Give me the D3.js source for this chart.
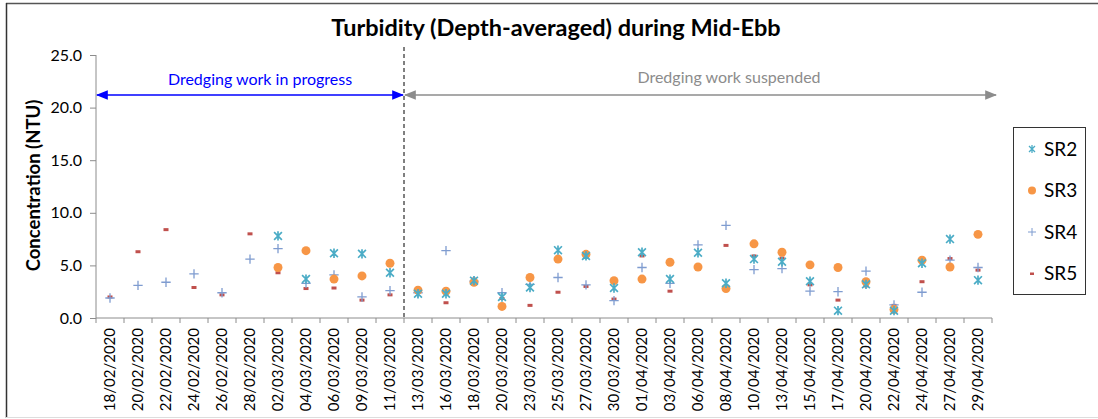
<!DOCTYPE html>
<html>
<head>
<meta charset="utf-8">
<script src="https://cdn.jsdelivr.net/npm/d3@7"></script>
<style>
  body { margin: 0; background: #fff; }
  svg { display: block; }
  svg text { font-family: Lato, "Open Sans", sans-serif; }
  .title { font-size: 23.5px; font-weight: bold; fill: #000; }
  .axis-label { font-size: 18.5px; font-weight: bold; fill: #000; }
  .y-axis text { font-size: 16px; fill: #000; }
  .x-axis text { font-size: 15px; fill: #000; }
  .legend text { font-size: 19px; fill: #000; }
  .note { font-size: 16px; }
</style>
</head>
<body>
<svg width="1098" height="419"></svg>
<script>
// categories on the x axis
const dates = ['18/02/2020','20/02/2020','22/02/2020','24/02/2020','26/02/2020','28/02/2020',
  '02/03/2020','04/03/2020','06/03/2020','09/03/2020','11/03/2020','13/03/2020','16/03/2020',
  '18/03/2020','20/03/2020','23/03/2020','25/03/2020','27/03/2020','30/03/2020','01/04/2020',
  '03/04/2020','06/04/2020','08/04/2020','10/04/2020','13/04/2020','15/04/2020','17/04/2020',
  '20/04/2020','22/04/2020','24/04/2020','27/04/2020','29/04/2020']

// null = no reading that day
const sr2 = [null,null,null,null,null,null,7.8,3.7,6.15,6.1,4.3,2.3,2.3,3.55,2.0,2.9,6.45,5.9,2.85,6.25,
  3.7,6.2,3.3,5.6,5.35,3.5,0.7,3.2,0.7,5.2,7.5,3.6]
const sr3 = [null,null,null,null,null,null,4.8,6.4,3.7,4.0,5.2,2.65,2.55,3.4,1.1,3.85,5.6,6.05,3.55,3.7,
  5.3,4.85,2.8,7.05,6.25,5.05,4.8,3.45,0.8,5.5,4.85,7.95]
const sr4 = [1.9,3.1,3.4,4.2,2.4,5.6,6.6,3.3,4.1,2.0,2.6,2.4,6.4,3.5,2.4,3.2,3.85,3.15,1.65,4.8,
  3.3,6.95,8.8,4.6,4.7,2.55,2.5,4.45,1.25,2.45,5.5,4.8]
const sr5 = [2.0,6.3,8.4,2.9,2.2,8.0,4.3,2.8,2.85,1.7,2.2,2.5,1.45,3.7,1.85,1.2,2.45,3.0,1.8,5.9,
  2.55,4.85,6.9,5.9,5.7,3.15,1.7,3.05,1.2,3.45,5.65,4.55]

const yTicks = [0, 5, 10, 15, 20, 25]
const seriesNames = ['SR2', 'SR3', 'SR4', 'SR5']
const seriesColors = ['#4BACC6', '#F79646', '#7F9CD0', '#C0504D']

const svg = d3.select('svg')
const width = +svg.attr('width')
const height = +svg.attr('height')

// chart frame (only top, left and bottom edges show)
svg.append('line').attr('x1', 6).attr('x2', width).attr('y1', 3.5).attr('y2', 3.5)
  .attr('stroke', '#555').attr('stroke-width', 1.5)
svg.append('line').attr('x1', 6.5).attr('x2', 6.5).attr('y1', 3).attr('y2', 418)
  .attr('stroke', '#333').attr('stroke-width', 1.5)
svg.append('line').attr('x1', 6).attr('x2', width).attr('y1', 417.5).attr('y2', 417.5)
  .attr('stroke', '#ddd')

const margin = {top: 55, right: 106, bottom: 101, left: 96}
const innerWidth = width - margin.left - margin.right
const innerHeight = height - margin.top - margin.bottom

const xScale = d3.scaleBand()
  .domain(dates)
  .range([0, innerWidth])

const yScale = d3.scaleLinear()
  .domain([0, 25])
  .range([innerHeight, 0])

const g = svg.append('g')
  .attr('transform', `translate(${margin.left},${margin.top})`)

// y axis
const yAxisG = g.append('g').attr('class', 'y-axis')
  .call(d3.axisLeft(yScale).tickValues(yTicks).tickFormat(d3.format('.1f')).tickSize(6).tickPadding(8))
yAxisG.attr('font-family', null).attr('font-size', null)
yAxisG.selectAll('.domain, .tick line').attr('stroke', '#8c8c8c')
yAxisG.select('.domain').attr('d', `M0,${innerHeight}V0`)

// x axis, ticks sit between categories
const xAxisG = g.append('g').attr('class', 'x-axis')
  .attr('transform', `translate(0,${innerHeight})`)
  .call(d3.axisBottom(xScale).tickSize(0).tickPadding(0))
xAxisG.attr('font-family', null).attr('font-size', null)
xAxisG.select('.domain').attr('d', `M0,0H${innerWidth}`).attr('stroke', '#8c8c8c')
xAxisG.selectAll('.tick text')
  .attr('transform', 'rotate(-90)')
  .attr('text-anchor', 'end')
  .attr('x', -10)
  .attr('y', 0)
  .attr('dy', '0.35em')
xAxisG.selectAll('.sep').data(d3.range(dates.length + 1))
  .enter().append('line')
    .attr('x1', i => i * xScale.step()).attr('x2', i => i * xScale.step())
    .attr('y1', 0).attr('y2', 5)
    .attr('stroke', '#8c8c8c')

// y axis title
g.append('text')
  .attr('class', 'axis-label')
  .attr('transform', `translate(${-56},${innerHeight / 2 - 1}) rotate(-90)`)
  .attr('text-anchor', 'middle')
  .text('Concentration (NTU)')

// title
svg.append('text')
  .attr('class', 'title')
  .attr('x', 556)
  .attr('y', 36)
  .attr('text-anchor', 'middle')
  .text('Turbidity (Depth-averaged) during Mid-Ebb')

// dredging annotations
const splitX = xScale('13/03/2020')
const arrowY = 40
const defs = svg.append('defs')
const marker = (id, color) => defs.append('marker')
  .attr('id', id).attr('viewBox', '0 0 10 10').attr('refX', 9).attr('refY', 5)
  .attr('markerWidth', 8).attr('markerHeight', 8).attr('orient', 'auto-start-reverse')
  .append('path').attr('d', 'M0,1L10,5L0,9Z').attr('fill', color)
marker('blueArrow', '#0000ff')
marker('greyArrow', '#8c8c8c')

g.append('line')
  .attr('x1', 1).attr('x2', splitX - 1)
  .attr('y1', arrowY).attr('y2', arrowY)
  .attr('stroke', '#0000ff').attr('stroke-width', 1.5)
  .attr('marker-start', 'url(#blueArrow)').attr('marker-end', 'url(#blueArrow)')
g.append('line')
  .attr('x1', splitX + 1).attr('x2', innerWidth + 4)
  .attr('y1', arrowY).attr('y2', arrowY)
  .attr('stroke', '#8c8c8c').attr('stroke-width', 1.5)
  .attr('marker-start', 'url(#greyArrow)').attr('marker-end', 'url(#greyArrow)')
g.append('line')
  .attr('x1', splitX).attr('x2', splitX)
  .attr('y1', -8).attr('y2', innerHeight + 2)
  .attr('stroke', '#000').attr('stroke-dasharray', '4,3')
g.append('text')
  .attr('class', 'note')
  .attr('x', splitX / 2 + 10).attr('y', arrowY - 10)
  .attr('text-anchor', 'middle')
  .attr('fill', '#0000ff')
  .text('Dredging work in progress')
g.append('text')
  .attr('class', 'note')
  .attr('x', (splitX + innerWidth) / 2 + 31).attr('y', arrowY - 12)
  .attr('text-anchor', 'middle')
  .attr('fill', '#8c8c8c')
  .text('Dredging work suspended')

// marker shapes
const drawMarker = (sel, idx, s) => {
  const c = seriesColors[idx]
  if (idx === 0) {
    sel.append('path')
      .attr('d', `M${-s},${-s}L${s},${s}M${-s},${s}L${s},${-s}M0,${-s * 1.2}V${s * 1.2}`)
      .attr('stroke', c).attr('stroke-width', 1.7).attr('fill', 'none')
  } else if (idx === 1) {
    sel.append('circle').attr('r', s * 1.15).attr('fill', c)
  } else if (idx === 2) {
    sel.append('path')
      .attr('d', `M${-s * 1.2},0H${s * 1.2}M0,${-s * 1.2}V${s * 1.2}`)
      .attr('stroke', c).attr('stroke-width', 1.3).attr('fill', 'none')
  } else {
    sel.append('rect').attr('x', -2.5).attr('y', -1.5).attr('width', 5).attr('height', 3).attr('fill', c)
  }
}

const series = [sr2, sr3, sr4, sr5]
// draw in reverse so SR2 ends on top
;[3, 2, 1, 0].forEach(idx => {
  const pts = dates.map((d, i) => ({date: d, value: series[idx][i]})).filter(p => p.value !== null)
  g.selectAll(`.pt${idx}`).data(pts)
    .enter().append('g')
      .attr('class', `pt${idx}`)
      .attr('transform', p => `translate(${xScale(p.date) + xScale.bandwidth() / 2},${yScale(p.value)})`)
      .each(function () { drawMarker(d3.select(this), idx, 3.9) })
})

// legend
const legend = svg.append('g').attr('class', 'legend')
legend.append('rect')
  .attr('x', 1013.5).attr('y', 127.5).attr('width', 72).attr('height', 167)
  .attr('fill', '#fff').attr('stroke', '#333')
seriesNames.forEach((name, idx) => {
  const row = legend.append('g').attr('transform', `translate(1032,${149 + idx * 41.5})`)
  if (idx === 0) {
    row.append('path').attr('d', 'M-3,-3L3,3M-3,3L3,-3M0,-4V4')
      .attr('stroke', seriesColors[0]).attr('stroke-width', 1.3).attr('fill', 'none')
  } else if (idx === 1) {
    row.append('circle').attr('r', 4).attr('fill', seriesColors[1])
  } else if (idx === 2) {
    row.append('path').attr('d', 'M-4,0H4M0,-4V4')
      .attr('stroke', seriesColors[2]).attr('stroke-width', 1).attr('fill', 'none')
  } else {
    row.append('rect').attr('x', -2).attr('y', -1).attr('width', 4).attr('height', 2.5).attr('fill', seriesColors[3])
  }
  row.append('text').attr('x', 12).attr('dy', '0.35em').text(name)
})
</script>
</body>
</html>
